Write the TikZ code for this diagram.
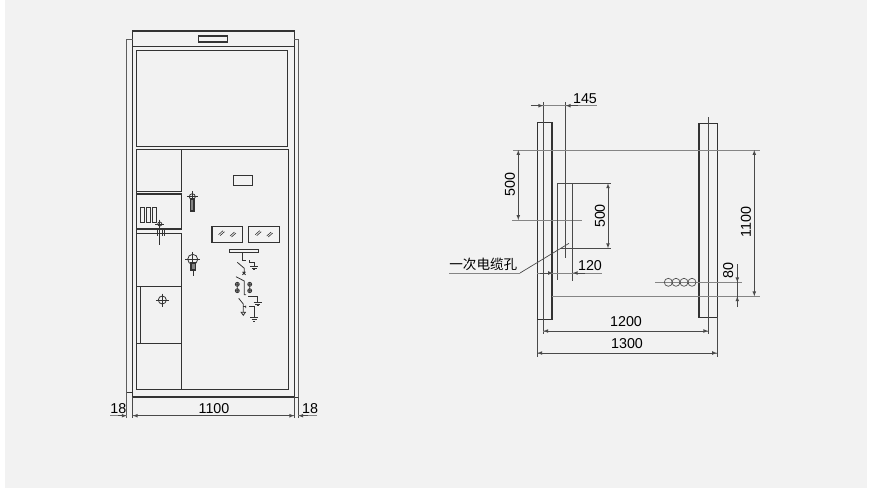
\documentclass[tikz,border=0pt]{standalone}
\usepackage{fontspec}
\setmainfont{Liberation Sans}
\newfontfamily\cjk{Noto Sans CJK SC}
\usetikzlibrary{calc,positioning}
\definecolor{panelbg}{HTML}{F2F2F2}
\definecolor{inkline}{HTML}{333333}
\definecolor{dimline}{HTML}{4A4A4A}
\definecolor{farline}{HTML}{858585}
\tikzset{
  cab line/.style  = {line width=1.1pt, inkline},
  thin line/.style = {line width=0.8pt, inkline},
  far line/.style  = {line width=1pt, farline},
  ext line/.style  = {line width=0.7pt, dimline},
  dim both/.style  = {line width=0.7pt, dimline, latex-latex},
  dim to/.style    = {line width=0.7pt, dimline, -latex},
  dimtext/.style   = {font=\fontsize{14.3}{14}\selectfont, text=black, inner sep=0pt},
}
\begin{document}
\begin{tikzpicture}[x=1pt,y=-1pt]
\def\earth(#1,#2){
	\draw[thin line] (#1-4,#2) --+ (8,0) (#1-2.5,#2+1.6) --+ (5,0) (#1-1,#2+3.2) --+ (2,0); }
\def\lockmark(#1,#2)<#3>{
	\draw[thin line] (#1,#2) circle (#3);
	\draw[thin line] (#1-#3-2.5,#2) --+ (2*#3+5,0) (#1,#2-#3-2.5) --+ (0,2*#3+5); }
\def\hatchpair(#1,#2){
	\draw[line width=0.6pt,inkline] (#1-2.5,#2+1) --+ (4.5,-4) (#1-1,#2+2) --+ (4.5,-4); }
\def\fusepair(#1){
	\draw[thin line] (#1,282) -- (#1,293)
	 (#1,284.3) circle (2) (#1,290.7) circle (2)
	 (#1-2,284.3) --+ (4,0) (#1-2,290.7) --+ (4,0); }
\useasboundingbox (0,0) rectangle (870,488);
\fill[white] (0,0) rectangle (870,488);
\fill[panelbg] (5,0) rectangle (867,488);

%---------------------------------------------
% front view
\draw[line width=1.3pt,inkline] (132.7,31) rectangle (294.3,397);
\draw[cab line] (132.7,46.3) -- (294.3,46.3);
\draw[line width=1.4pt,farline!70!black] (132.7,39.3) -- (126.7,39.3) -- (126.7,418);
\draw[thin line] (126.7,392) -- (132.7,392);
\draw[line width=1.4pt,farline!70!black] (294.3,39.3) -- (298.3,39.3) -- (298.3,397);
\draw[thin line] (294.3,397) -- (298.3,397);
\draw[cab line,fill=panelbg] (198.3,36) rectangle (227.7,42);
\draw[cab line] (136.7,50.7) rectangle (287.7,146.7);
\draw[cab line] (136.7,149.7) rectangle (288.7,389.3);
\draw[cab line] (136.7,149.7) rectangle (181.7,191.3);
\draw[cab line] (136.7,194) rectangle (181.7,229);
\draw[cab line] (136.7,233.3) rectangle (181.7,389.3);
\draw[cab line] (136.7,286.7) rectangle (181.7,343.3);
\draw[thin line] (140.7,286.7) -- (140.7,343.3);
\lockmark(162.3,300)<4>
\draw[thin line] (233.7,175.3) rectangle (252.3,185.7);
\foreach \n in {140,146,152}
	\draw[thin line] (\n,207.7) rectangle (\n+4.3,222);
% locks
\lockmark(192.3,196.7)<3>
\draw[cab line,fill=farline] (190.7,199) rectangle (194,211);
\lockmark(159.8,224)<2>
\draw[thin line] (159.8,224) -- (159.8,245.3) (162.7,228.7) -- (162.7,236) (164,228.7) -- (164,236);
\draw[line width=1.4pt,inkline] (157.3,229) -- (157.3,236);
\lockmark(192.7,259.3)<5>
\draw[cab line,fill=farline] (191,263) rectangle (195.3,270);
\draw[thin line] (192.9,270) -- (192.9,276);
% windows
\foreach \x in {212,248.7} {
	\draw[cab line] (\x,226.3) rectangle (\x+30.8,242.7);
	\hatchpair(\x+9,233.7)
	\hatchpair(\x+20.5,235) }
\draw[cab line,fill=panelbg] (229.3,249.3) rectangle (258.3,252.7);
% circuit
\draw[thin line] (242.7,252.7) -- (242.7,260.3) -- (245.7,260.3);
\draw[thin line] (249.3,260) -- (249.3,262.3) -- (254.3,262.3) -- (254.3,266.3);
\earth(254.3,266.3)
\draw[thin line] (237.3,262.3) -- (244.3,268.3) -- (244.3,272) (242.5,271.8) -- (245.5,274.8) (245.5,271.8) -- (242.5,274.8);
\draw[thin line] (236,276.7) -- (244.3,281) -- (244.3,294.7) -- (246,294.7);
\fusepair(237.3)
\fusepair(249.7)
\draw[thin line] (248,296.3) -- (257.7,296.3) -- (257.7,302.3);
\earth(257.7,302.3)
\draw[thin line] (238.7,298.3) -- (243.3,304) -- (243.3,312.3) (245.7,305.5) -- (245.7,308);
\draw[thin line] (243.3,306.7) -- (245.7,306.7);
\draw[thin line] (241.2,312.3) -- (245.4,312.3) -- (243.3,315.3) -- cycle;
\draw[thin line] (249.3,306) -- (249.3,306.7) -- (254,306.7) -- (254,317.7);
\earth(254,317.7)
% sizes below the front view
\draw[ext line] (132.7,397) -- (132.7,418) (294.3,397) -- (294.3,418) (298.3,397) -- (298.3,418);
\draw[far line] (132.7,415.7) -- (294.3,415.7);
\draw[dim both] (132.7,415.7) -- (294.3,415.7);
\draw[far line] (110,415.7) -- (126.7,415.7);
\draw[dim to] (118,415.7) -- (126.7,415.7);
\draw[far line] (317.3,415.7) -- (298.3,415.7);
\draw[dim to] (308,415.7) -- (298.3,415.7);
\node[dimtext] (front_18_l) at (118.3,408.3) {18};
\node[dimtext] (front_1100) at (214,408.3) {1100};
\node[dimtext] (front_18_r) at (310,408.3) {18};

%---------------------------------------------
% floor plan
\path (543.3,122.3) coordinate (rail_l) (708.3,123.3) coordinate (rail_r);
\draw[line width=1.2pt,inkline] (537.3,122.3) rectangle (552,319.7);
\draw[line width=1.2pt,inkline] (699,123.3) rectangle (717.3,317.3);
\draw[ext line] (rail_l |- 0,102.3) -- (rail_l |- 0,334);
\draw[ext line] (rail_r |- 0,117.3) -- (rail_r |- 0,334);
\draw[ext line] (565.7,102.3) -- (565.7,258.3);
\draw[far line] (513.3,150) -- (760,150);
\draw[far line] (512.3,220) -- (582.3,220);
\draw[far line] (552,296.3) -- (760,296.3);
\draw[far line] (655.3,282.3) -- (741.7,282.3);
\draw[ext line] (557.3,183.3) -- (610.7,183.3) (557.3,183.3) -- (557.3,280) (572.7,183.3) -- (572.7,280.7);
\draw[ext line] (560,248.3) -- (610.7,248.3);
\foreach \x in {668.3,676,684,692}
	\draw[line width=0.7pt,farline!60!black] (\x,282.3) circle (4);
% sizes
\draw[far line] (530.7,105.7) -- (596.7,105.7);
\draw[dim to] (531,105.7) -- (543.3,105.7);
\draw[dim to] (578,105.7) -- (565.7,105.7);
\draw[dim both] (518.3,150) -- (518.3,220);
\draw[dim both] (608,183.3) -- (608,248.3);
\draw[far line] (536.7,273) -- (601.7,273);
\draw[dim to] (540,273) -- (553,273);
\draw[dim to] (585,273) -- (572.7,273);
\draw[far line] (543.3,331) -- (708.3,331);
\draw[dim both] (543.3,331) -- (708.3,331);
\draw[far line] (537.3,353) -- (717,353);
\draw[dim both] (537.3,353) -- (717,353);
\draw[ext line] (537.3,319.7) -- (537.3,357.3) (717,317.3) -- (717,357.3);
\draw[dim both] (754.3,150) -- (754.3,296.3);
\draw[ext line] (737.3,264.3) -- (737.3,307.3);
\draw[dim to] (737.3,272) -- (737.3,282.3);
\draw[dim to] (737.3,307) -- (737.3,296.3);
% leader
\draw[ext line] (569,243.3) -- (520,273);
\draw[far line] (520,273) -- (449.3,273);
\node[dimtext] (plan_145) at (585,99) {145};
\node[dimtext,rotate=90] (plan_500_l) at (510,184.3) {500};
\node[dimtext,rotate=90] (plan_500_r) at (600,216) {500};
\node[dimtext] (plan_120) at (590,265.7) {120};
\node[dimtext] (plan_1200) at (626,322) {1200};
\node[dimtext] (plan_1300) at (627,344) {1300};
\node[dimtext,rotate=90] (plan_1100) at (746,222.3) {1100};
\node[dimtext,rotate=90] (plan_80) at (728.3,270.7) {80};
\node[font=\cjk\fontsize{13.6}{14}\selectfont,text=black,inner sep=0pt] (plan_hole) at (483.3,264) {一次电缆孔};
\end{tikzpicture}
\end{document}
